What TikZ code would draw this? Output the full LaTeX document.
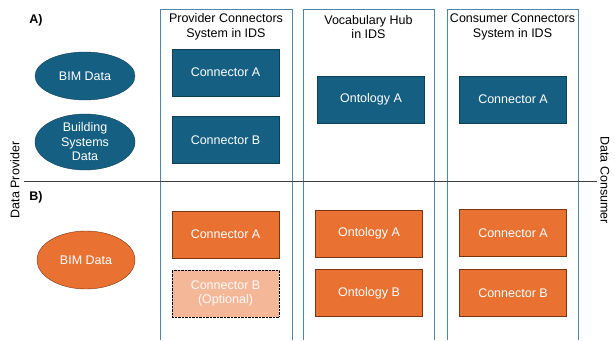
\documentclass[tikz,border=0pt]{standalone}
\usepackage{fontspec}
\setmainfont{Liberation Sans}
\usetikzlibrary{shapes.geometric}
\definecolor{idsblue}{HTML}{156082}
\definecolor{idsblueedge}{HTML}{0F3F57}
\definecolor{idsorange}{HTML}{E97132}
\definecolor{idsorangeedge}{HTML}{7A3510}
\definecolor{idspeach}{HTML}{F4B899}
\definecolor{colframe}{HTML}{4A87A8}
\tikzset{bluebox/.style = {draw=idsblueedge, fill=idsblue, text=white,
                           minimum width=107, minimum height=47, inner sep=0}}
\tikzset{orangebox/.style = {draw=idsorangeedge, fill=idsorange, text=white,
                             minimum width=107, minimum height=47, inner sep=0}}
\tikzset{optbox/.style = {draw=black, densely dotted, fill=idspeach, text=white!92!idspeach,
                          minimum width=107, minimum height=47, inner sep=0, align=center}}
\tikzset{blueblob/.style = {ellipse, draw=idsblueedge, fill=idsblue, text=white,
                            minimum width=100, inner sep=0, align=center}}
\tikzset{orangeblob/.style = {ellipse, draw=idsorangeedge, fill=idsorange, text=white,
                              minimum width=98, inner sep=0, align=center}}
\tikzset{colhead/.style = {align=center, inner sep=0}}
\tikzset{colframe/.style = {draw=colframe, line width=1}}

\begin{document}
\begin{tikzpicture}[x=1pt, y=-1pt, font=\fontsize{12.5}{14.5}\selectfont]
    \useasboundingbox (0, 0) rectangle (615, 340);

    % system columns, open at the bottom
    \draw [colframe] (160, 340) -- (160, 9) -- (292, 9) -- (292, 340);
    \draw [colframe] (303, 340) -- (303, 9) -- (434, 9) -- (434, 340);
    \draw [colframe] (447, 340) -- (447, 9) -- (578, 9) -- (578, 340);

    \node [colhead] (provhead) at (226, 27) {Provider Connectors\\System in IDS};
    \node [colhead] (vocabhead) at (368.5, 27) {Vocabulary Hub\\in IDS};
    \node [colhead] (conshead) at (512.5, 27) {Consumer Connectors\\System in IDS};

    \draw [black!75, line width=1] (24, 181) -- (597, 181);

    \node [rotate=90] (provside) at (15, 180) {Data Provider};
    \node [rotate=-90] (consside) at (605, 180) {Data Consumer};

    % case A
    \node [font=\fontsize{12.5}{14.5}\selectfont\bfseries] (labA) at (36, 20) {A)};
    \node [blueblob, minimum height=48] (bimA) at (85, 76) {BIM Data};
    \node [blueblob, minimum height=56] (bsysA) at (85, 142) {Building\\Systems\\Data};
    \node [bluebox] (provconA) at (225.5, 72.5) {Connector A};
    \node [bluebox] (provconB) at (225.5, 140) {Connector B};
    \node [bluebox] (ontoA) at (371, 99.5) {Ontology A};
    \node [bluebox] (consconA) at (513, 99.5) {Connector A};

    % case B
    \node [font=\fontsize{12.5}{14.5}\selectfont\bfseries] (labB) at (36, 197) {B)};
    \node [orangeblob, minimum height=58] (bimB) at (86, 260) {BIM Data};
    \node [orangebox] (bprovconA) at (225.5, 234.5) {Connector A};
    \node [optbox] (bprovconB) at (225.5, 293.5) {Connector B\\(Optional)};
    \node [orangebox] (bontoA) at (369, 233.5) {Ontology A};
    \node [orangebox] (bontoB) at (369, 293) {Ontology B};
    \node [orangebox] (bconsconA) at (513, 233) {Connector A};
    \node [orangebox] (bconsconB) at (513, 293) {Connector B};
\end{tikzpicture}
\end{document}
